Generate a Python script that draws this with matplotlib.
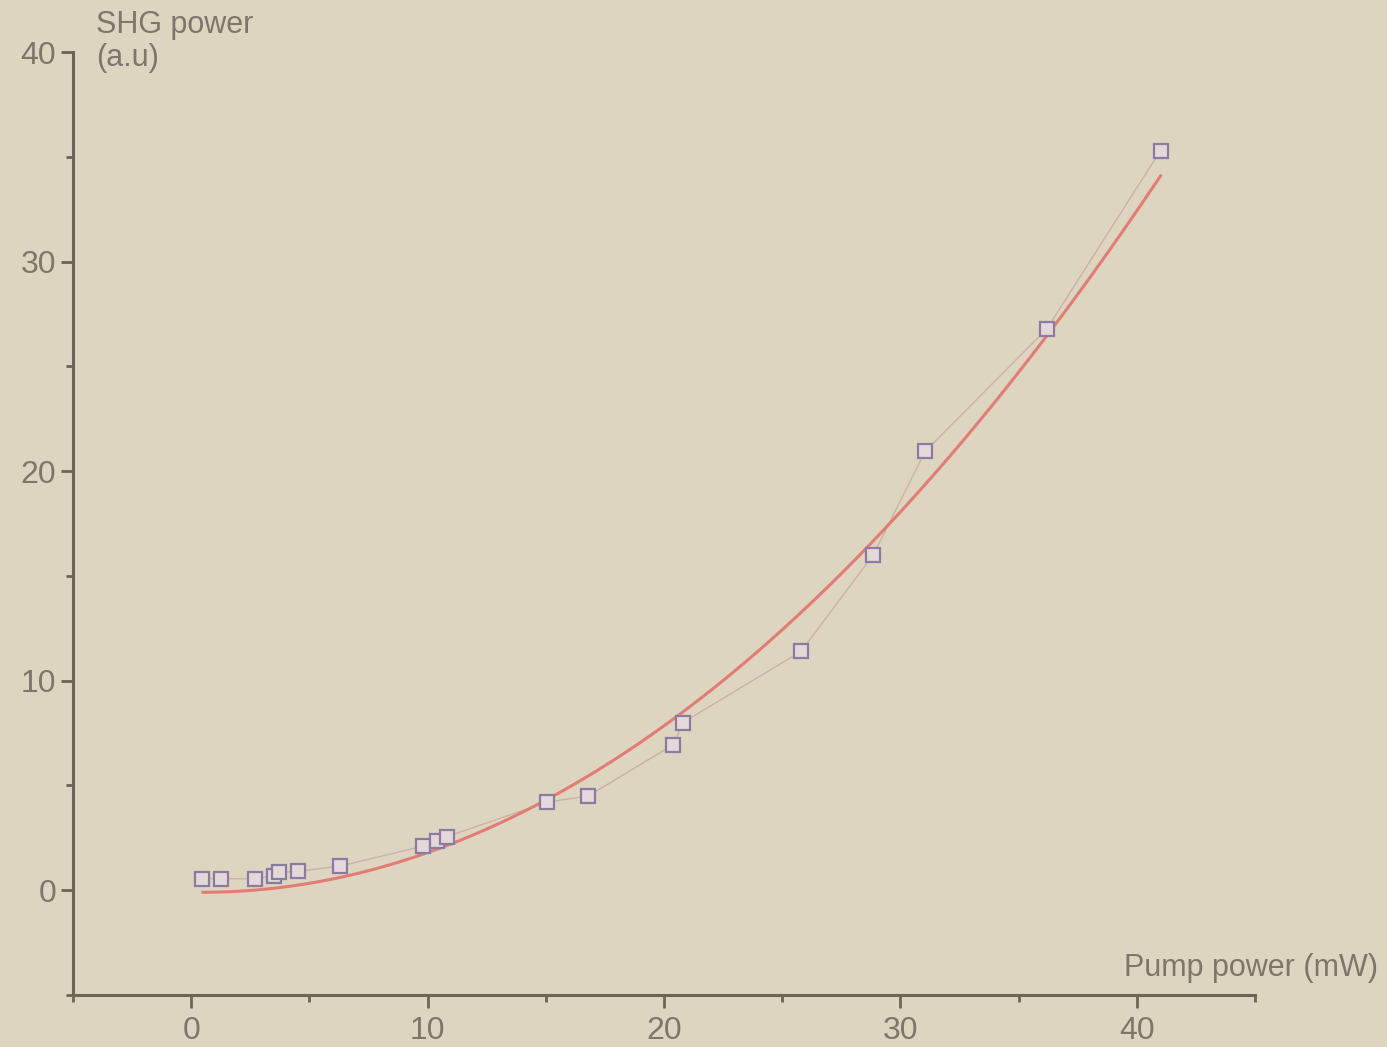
import numpy as np
import matplotlib
matplotlib.use("Agg")
import matplotlib.pyplot as plt
from matplotlib.ticker import MultipleLocator

# measured SHG power vs pump power
pump_mw = [0.45, 1.25, 2.7, 3.5, 3.7, 4.5, 6.3, 9.8, 10.4, 10.8,
           15.05, 16.8, 20.4, 20.8, 25.8, 28.85, 31.05, 36.2, 41.0]
shg_au = [0.55, 0.55, 0.55, 0.7, 0.85, 0.9, 1.15, 2.1, 2.35, 2.55,
          4.2, 4.5, 6.95, 8.0, 11.4, 16.0, 20.95, 26.8, 35.3]

# quadratic fit as drawn in the figure (a*x^2 + b*x + c)
fit_coef = [0.0208, -0.019, -0.096]
fit_range = [0.5, 41.0]

x_ticks = [0, 10, 20, 30, 40]
y_ticks = [0, 10, 20, 30, 40]

bg = "#ddd5c0"
axis_col = "#6b6557"
text_col = "#7d776b"

plt.rcParams['font.family'] = ['Liberation Sans', 'DejaVu Sans']

fig = plt.figure(figsize=(13.87, 10.47), dpi=100, facecolor=bg)
ax = fig.add_axes([0.0526, 0.0497, 0.8523, 0.9006])
ax.set_facecolor(bg)

x = np.array(pump_mw)
y = np.array(shg_au)

xf = np.linspace(fit_range[0], fit_range[1], 300)
ax.plot(xf, np.polyval(fit_coef, xf), color="#e27c74", lw=2.2, zorder=2)

# data joined by thin line
ax.plot(x, y, color="#cdb0a8", lw=1.0, zorder=1)
ax.plot(x, y, ls="none", marker="s", ms=10.5, mfc="#e4d8da", mec="#8a7ca0",
        mew=1.6, zorder=3)

ax.set_xlim(-5, 45)
ax.set_ylim(-5, 40)
ax.spines['top'].set_visible(False)
ax.spines['right'].set_visible(False)
for s in ['left', 'bottom']:
    ax.spines[s].set_color(axis_col)
    ax.spines[s].set_linewidth(2.2)

ax.set_xticks(x_ticks)
ax.set_yticks(y_ticks)
ax.xaxis.set_minor_locator(MultipleLocator(5))
ax.yaxis.set_minor_locator(MultipleLocator(5))
ax.tick_params(which='major', direction='out', length=9, width=2,
               color=axis_col, labelcolor=text_col, labelsize=23)
ax.tick_params(which='minor', direction='out', length=5, width=2,
               color=axis_col)
ax.tick_params(axis='x', pad=6)
ax.tick_params(axis='y', pad=3)

fig.text(96 / 1387, 1 - 10 / 1047, "SHG power\n(a.u)", color=text_col,
         fontsize=22, ha='left', va='top', linespacing=1.15)
fig.text(1378 / 1387, 1 - 968 / 1047, "Pump power (mW)", color=text_col,
         fontsize=22, ha='right', va='center')

fig.savefig("out.png", dpi=100, facecolor=bg)
